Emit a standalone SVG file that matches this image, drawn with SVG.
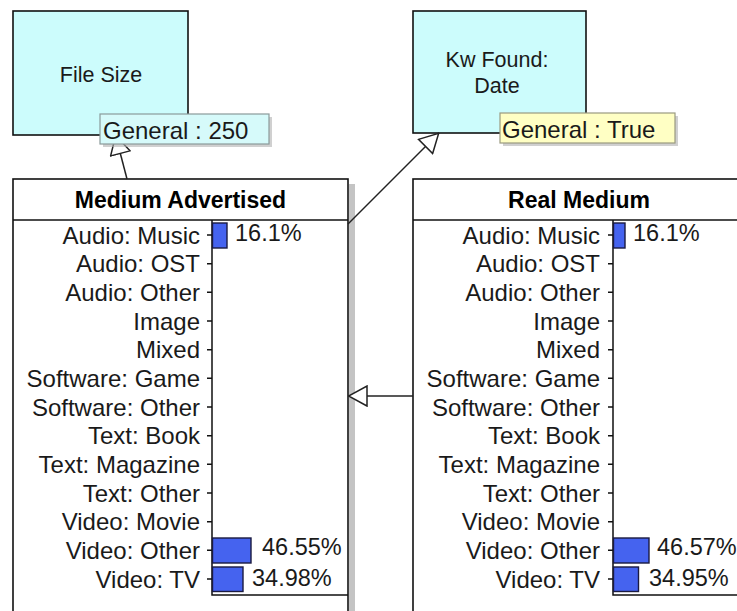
<svg xmlns="http://www.w3.org/2000/svg" width="737" height="611" viewBox="0 0 737 611">
<style>
  text { font-family: "Liberation Sans", Arial, sans-serif; fill: #1a1a1a; }
  .node { fill: #ccfcfc; stroke: #111; stroke-width: 1.6; }
  .box { fill: #ffffff; stroke: #111; stroke-width: 1.6; }
  .shadow { fill: #c4c4c4; }
  .ntxt { font-size: 21.5px; text-anchor: middle; }
  .title { font-size: 23px; font-weight: bold; text-anchor: middle; fill: #000; }
  .cat { font-size: 24px; text-anchor: end; }
  .val { font-size: 23.5px; }
  .lbl { font-size: 24px; }
  .axis { stroke: #111; stroke-width: 1.5; fill: none; }
  .bar { fill: #4563ef; stroke: #1a1a40; stroke-width: 1.4; }
  .conn { stroke: #222; stroke-width: 1.5; fill: none; marker-end: url(#tri); }
  .tag-shadow { fill: #b0b0b0; opacity: 0.6; }
</style>
<defs>
  <marker id="tri" viewBox="0 0 20 22" refX="20" refY="11" markerWidth="20" markerHeight="22" markerUnits="userSpaceOnUse" orient="auto">
    <path d="M1,1 L19.5,11 L1,21 Z" fill="#fff" stroke="#222" stroke-width="1.5"/>
  </marker>
</defs>
<rect width="737" height="611" fill="#fff"/>

<g id="file-size">
  <rect class="node" x="13" y="11" width="175" height="124"/>
  <text class="ntxt" x="101" y="82">File Size</text>
</g>

<g id="kw-found">
  <rect class="node" x="413" y="11" width="173" height="122"/>
  <text class="ntxt" x="497" y="67">Kw Found:</text>
  <text class="ntxt" x="497" y="93">Date</text>
</g>

<g id="medium-advertised">
  <rect class="shadow" x="349" y="184" width="6" height="440"/>
  <rect class="box" x="13" y="179" width="335" height="445"/>
  <line class="axis" x1="13" y1="220" x2="348" y2="220"/>
  <text class="title" x="180.5" y="208">Medium Advertised</text>
  <path class="axis" d="M212,220 V595 H348"/>
  <path class="axis" d="M207,235 H212 M207,263.7 H212 M207,292.3 H212 M207,321 H212 M207,349.7 H212 M207,378.3 H212 M207,407 H212 M207,435.7 H212 M207,464.3 H212 M207,493 H212 M207,521.7 H212 M207,550.3 H212 M207,579 H212"/>
  <text class="cat" x="200" y="243.5">Audio: Music</text>
  <text class="cat" x="200" y="272.2">Audio: OST</text>
  <text class="cat" x="200" y="300.8">Audio: Other</text>
  <text class="cat" x="200" y="329.5">Image</text>
  <text class="cat" x="200" y="358.2">Mixed</text>
  <text class="cat" x="200" y="386.8">Software: Game</text>
  <text class="cat" x="200" y="415.5">Software: Other</text>
  <text class="cat" x="200" y="444.2">Text: Book</text>
  <text class="cat" x="200" y="472.8">Text: Magazine</text>
  <text class="cat" x="200" y="501.5">Text: Other</text>
  <text class="cat" x="200" y="530.2">Video: Movie</text>
  <text class="cat" x="200" y="558.8">Video: Other</text>
  <text class="cat" x="200" y="587.5">Video: TV</text>
  <rect class="bar" x="212.5" y="223" width="14.5" height="25"/>
  <rect class="bar" x="212.5" y="538" width="38.5" height="25"/>
  <rect class="bar" x="212.5" y="567" width="30.5" height="24.5"/>
  <text class="val" x="235" y="241">16.1%</text>
  <text class="val" x="262" y="555">46.55%</text>
  <text class="val" x="252" y="586">34.98%</text>
</g>

<g id="real-medium">
  <rect class="box" x="413" y="179" width="335" height="445"/>
  <line class="axis" x1="413" y1="220" x2="748" y2="220"/>
  <text class="title" x="579" y="208">Real Medium</text>
  <path class="axis" d="M613,220 V595 H748"/>
  <path class="axis" d="M608,235 H613 M608,263.7 H613 M608,292.3 H613 M608,321 H613 M608,349.7 H613 M608,378.3 H613 M608,407 H613 M608,435.7 H613 M608,464.3 H613 M608,493 H613 M608,521.7 H613 M608,550.3 H613 M608,579 H613"/>
  <text class="cat" x="600" y="243.5">Audio: Music</text>
  <text class="cat" x="600" y="272.2">Audio: OST</text>
  <text class="cat" x="600" y="300.8">Audio: Other</text>
  <text class="cat" x="600" y="329.5">Image</text>
  <text class="cat" x="600" y="358.2">Mixed</text>
  <text class="cat" x="600" y="386.8">Software: Game</text>
  <text class="cat" x="600" y="415.5">Software: Other</text>
  <text class="cat" x="600" y="444.2">Text: Book</text>
  <text class="cat" x="600" y="472.8">Text: Magazine</text>
  <text class="cat" x="600" y="501.5">Text: Other</text>
  <text class="cat" x="600" y="530.2">Video: Movie</text>
  <text class="cat" x="600" y="558.8">Video: Other</text>
  <text class="cat" x="600" y="587.5">Video: TV</text>
  <rect class="bar" x="613.5" y="223" width="11.5" height="25"/>
  <rect class="bar" x="613.5" y="538" width="35.5" height="25"/>
  <rect class="bar" x="613.5" y="567" width="25" height="24.5"/>
  <text class="val" x="633" y="241">16.1%</text>
  <text class="val" x="657" y="555">46.57%</text>
  <text class="val" x="649" y="586">34.95%</text>
</g>

<g id="connectors">
  <path class="conn" d="M127,179 L115.5,135"/>
  <path class="conn" d="M348,224 L439,133"/>
  <path class="conn" d="M413,396 L348,396"/>
</g>

<g id="label-file-size">
  <rect class="tag-shadow" x="103" y="117" width="169" height="30"/>
  <rect x="100" y="114" width="169" height="30" fill="#d6fafa" stroke="#8a9a9a" stroke-width="1.2"/>
  <text class="lbl" x="103" y="139">General : 250</text>
</g>

<g id="label-kw-found">
  <rect class="tag-shadow" x="503" y="116" width="175" height="30"/>
  <rect x="500" y="113" width="175" height="30" fill="#ffffc4" stroke="#9a9a80" stroke-width="1.2"/>
  <text class="lbl" x="502" y="138">General : True</text>
</g>
</svg>
